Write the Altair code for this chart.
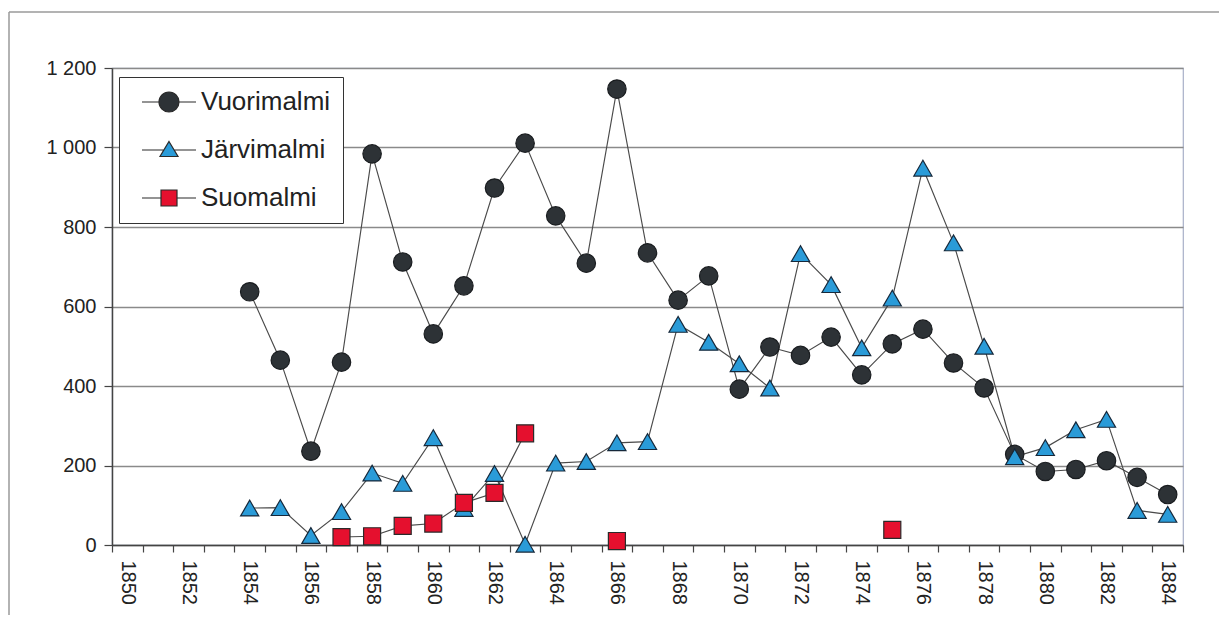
import altair as alt
import pandas as pd

# ---------------- data ----------------
years = [1850, 1851, 1852, 1853, 1854, 1855, 1856, 1857, 1858, 1859,
         1860, 1861, 1862, 1863, 1864, 1865, 1866, 1867, 1868, 1869,
         1870, 1871, 1872, 1873, 1874, 1875, 1876, 1877, 1878, 1879,
         1880, 1881, 1882, 1883, 1884]
series_names = ["Vuorimalmi", "Järvimalmi", "Suomalmi"]

vuori_years = [1854, 1855, 1856, 1857, 1858, 1859, 1860, 1861, 1862, 1863,
               1864, 1865, 1866, 1867, 1868, 1869, 1870, 1871, 1872, 1873,
               1874, 1875, 1876, 1877, 1878, 1879, 1880, 1881, 1882, 1883, 1884]
vuori_values = [637, 465, 236, 460, 984, 712, 531, 652, 898, 1011,
                828, 709, 1147, 735, 616, 677, 392, 498, 477, 523,
                428, 506, 543, 458, 395, 228, 185, 190, 212, 170, 127]

jarvi_years = [1854, 1855, 1856, 1857, 1858, 1859, 1860, 1861, 1862, 1863,
               1864, 1865, 1866, 1867, 1868, 1869, 1870, 1871, 1872, 1873,
               1874, 1875, 1876, 1877, 1878, 1879, 1880, 1881, 1882, 1883, 1884]
jarvi_values = [93, 94, 24, 84, 181, 155, 270, 92, 180, 2,
                206, 210, 257, 260, 555, 510, 456, 395, 733, 655,
                496, 621, 948, 760, 500, 222, 245, 290, 316, 87, 77]

suo_years = [1857, 1858, 1859, 1860, 1861, 1862, 1863, 1866, 1875]
suo_values = [20, 22, 48, 54, 106, 131, 281, 10, 38]

fill_colors = ["#2d3236", "#2a9bd8", "#e5102e"]
stroke_colors = ["#1a1d20", "#16283a", "#2a2a2a"]
legend_stroke_colors = ["#2a2a2a", "#2a2a2a", "#2a2a2a"]

# legend symbols: marker with a line through it (unit coordinates)
legend_paths = [
    "M-2.7,0L-1,0M1,0L2.7,0M-1,0A1,1,0,1,0,1,0A1,1,0,1,0,-1,0Z",
    "M-2.7,0L-0.5,0M0.5,0L2.7,0M0,-0.85L0.9,0.65L-0.9,0.65Z",
    "M-2.7,0L-0.8,0M0.8,0L2.7,0M-0.8,-0.8L0.8,-0.8L0.8,0.8L-0.8,0.8Z",
]

rows = []
for name, ys, vs in [(series_names[0], vuori_years, vuori_values),
                     (series_names[1], jarvi_years, jarvi_values),
                     (series_names[2], suo_years, suo_values)]:
    seg = 0
    prev = None
    for y, v in zip(ys, vs):
        if prev is not None and y - prev > 1:
            seg += 1
        rows.append({"year": y, "series": name, "value": v, "seg": f"{name}-{seg}"})
        prev = y
df = pd.DataFrame(rows)

FONT = "Liberation Sans"

x_enc = alt.X(
    "year:O",
    bandPosition=0.5,
    scale=alt.Scale(type="band", domain=years, paddingInner=0, paddingOuter=0),
    axis=alt.Axis(
        title=None, tickBand="extent", grid=False,
        labelExpr="datum.value % 2 == 0 ? datum.label : ''",
        labelAngle=90, labelFontSize=20, labelFont=FONT, labelColor="#222",
        labelPadding=8, tickSize=7, tickColor="#444", tickWidth=1.2,
        domainColor="#444", domainWidth=1.5,
    ),
)
y_enc = alt.Y(
    "value:Q",
    scale=alt.Scale(domain=[0, 1200], nice=False),
    axis=alt.Axis(
        title=None, values=[0, 200, 400, 600, 800, 1000, 1200],
        labelExpr="replace(format(datum.value, ','), ',', ' ')",
        labelFontSize=20, labelFont=FONT, labelColor="#222", labelPadding=8,
        tickSize=8, tickColor="#444", tickWidth=1.2,
        domainColor="#444", domainWidth=1.5,
        grid=True, gridColor="#8a8a8a", gridWidth=1.3,
    ),
)

base = alt.Chart(df)

# decorative outer chart frame
frame_left = alt.Chart(alt.Data(values=[{}])).mark_rule(color="#9a9a9a", strokeWidth=1.5).encode(
    x=alt.value(-103), y=alt.value(-56), y2=alt.value(560))
frame_top = alt.Chart(alt.Data(values=[{}])).mark_rule(color="#9a9a9a", strokeWidth=1.5).encode(
    x=alt.value(-103), x2=alt.value(1110), y=alt.value(-56))

lines = base.mark_line(color="#4a4a4a", strokeWidth=1.15).encode(
    x=x_enc, y=y_enc, detail="seg:N")

shapes = ["circle", "triangle-up", "square"]
sizes = [340, 330, 290]
point_layers = []
for i, name in enumerate(series_names):
    point_layers.append(
        base.transform_filter(alt.datum.series == name)
        .mark_point(shape=shapes[i], filled=True, fill=fill_colors[i],
                    stroke=stroke_colors[i], strokeWidth=1.2, size=sizes[i], opacity=1)
        .encode(x=x_enc, y=y_enc)
    )

leg = dict(
    title=None, orient="none", legendX=7, legendY=9,
    strokeColor="#333", fillColor="white", padding=12, rowPadding=22,
    symbolOffset=25, symbolSize=400, symbolStrokeWidth=1.2, symbolStrokeColor="#2a2a2a",
    symbolOpacity=1,
    labelFontSize=26, labelFont=FONT, labelColor="#222", labelOffset=19, labelLimit=400,
)
legend_layer = base.transform_filter("datum.value < 0").mark_point(
    filled=False, strokeWidth=1.2, opacity=1
).encode(
    x=x_enc, y=y_enc,
    shape=alt.Shape("series:N", scale=alt.Scale(domain=series_names, range=legend_paths),
                    legend=alt.Legend(**leg)),
    fill=alt.Fill("series:N", scale=alt.Scale(domain=series_names, range=fill_colors),
                  legend=alt.Legend(**leg)),
    stroke=alt.Stroke("series:N", scale=alt.Scale(domain=series_names, range=legend_stroke_colors),
                      legend=alt.Legend(**leg)),
)

chart = alt.layer(frame_left, frame_top, lines, *point_layers, legend_layer).properties(
    width=1071, height=477,
    padding={"left": 104, "top": 60, "right": 36, "bottom": 70},
    autosize=alt.AutoSizeParams(type="none"),
    background="white",
).configure_view(stroke="#a8b0c8", strokeWidth=1.2)

chart.save("out.html", embed_options={"renderer": "svg", "actions": False})
